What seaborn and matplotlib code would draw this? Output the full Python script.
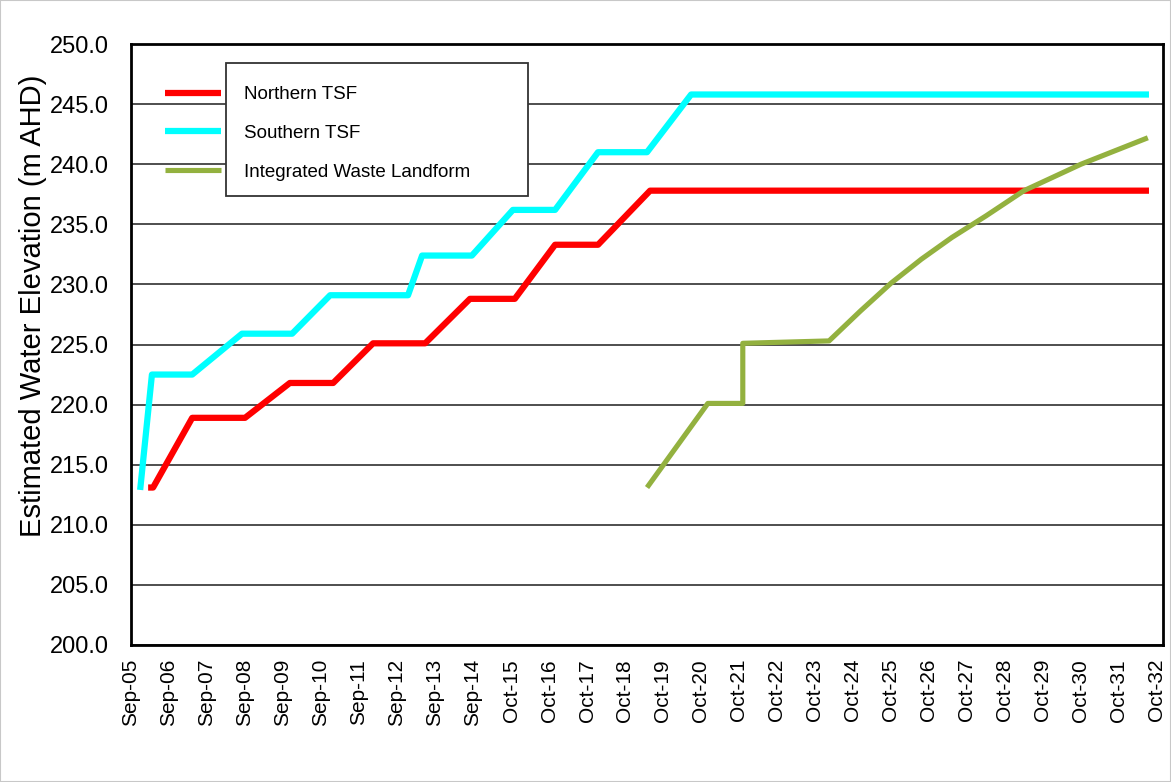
import numpy as np
import pandas as pd
import matplotlib
matplotlib.use("Agg")
import matplotlib.pyplot as plt
import seaborn as sns
from matplotlib.patches import Rectangle

# x values are years counted from the Sep-05 tick
north_x = [0.45, 0.58, 1.61, 3.0, 4.18, 5.32, 6.37, 7.74, 8.92, 10.1, 11.16, 12.29, 13.66, 26.79]
north_y = [213.1, 213.1, 218.9, 218.9, 221.8, 221.8, 225.1, 225.1, 228.8, 228.8, 233.3, 233.3, 237.8, 237.8]

south_x = [0.24, 0.55, 1.61, 2.92, 4.24, 5.24, 7.29, 7.66, 8.97, 10.05, 11.16, 12.29, 13.58, 14.74, 26.79]
south_y = [212.9, 222.5, 222.5, 225.9, 225.9, 229.1, 229.1, 232.4, 232.4, 236.2, 236.2, 241.0, 241.0, 245.8, 245.8]

iwl_x = [13.58, 15.18, 16.1, 16.1, 18.37, 19.2, 20.0, 20.8, 21.6, 22.5, 23.5, 25.0, 26.76]
iwl_y = [213.1, 220.1, 220.1, 225.1, 225.3, 227.8, 230.1, 232.1, 233.9, 235.7, 237.8, 240.0, 242.2]

series_names = ["Northern TSF", "Southern TSF", "Integrated Waste Landform"]
series_colors = ["#FF0000", "#00FFFF", "#93B13F"]

tick_labels = ["Sep-%02d" % yr for yr in range(5, 15)] + ["Oct-%02d" % yr for yr in range(15, 33)]

df = pd.concat([
    pd.DataFrame({"x": north_x, "y": north_y, "series": series_names[0]}),
    pd.DataFrame({"x": south_x, "y": south_y, "series": series_names[1]}),
    pd.DataFrame({"x": iwl_x, "y": iwl_y, "series": series_names[2]}),
], ignore_index=True)

sns.set_style("white")
plt.rcParams["font.family"] = ["Liberation Sans", "DejaVu Sans"]
for key in ["text.color", "axes.labelcolor", "xtick.color", "ytick.color"]:
    plt.rcParams[key] = "black"

fig = plt.figure(figsize=(11.71, 7.82), dpi=100)
ax = fig.add_axes([0.1119, 0.1752, 0.8813, 0.7685])

widths = [4.5, 4.5, 3.7]
for name, col, lw in zip(series_names, series_colors, widths):
    sub = df[df["series"] == name]
    sns.lineplot(data=sub, x="x", y="y", color=col, lw=lw, sort=False,
                 estimator=None, ax=ax, label=name, solid_capstyle="butt", zorder=3)

ax.set_xlim(0, 27.16)
ax.set_ylim(200, 250)
ax.set_yticks(np.arange(200, 251, 5))
ax.set_yticklabels(["%.1f" % v for v in np.arange(200, 251, 5)], fontsize=17)
ax.set_xticks(range(len(tick_labels)))
ax.set_xticklabels(tick_labels, rotation=90, fontsize=15)
ax.set_xlabel("")
ax.set_ylabel("Estimated Water Elevation (m AHD)", fontsize=21, labelpad=2)
ax.yaxis.label.set_y(0.565)

ax.yaxis.grid(True, color="#404040", lw=1.3)
ax.xaxis.grid(False)
ax.set_axisbelow(True)
for sp in ax.spines.values():
    sp.set_visible(True)
    sp.set_color("black")
    sp.set_linewidth(2)
ax.tick_params(axis="both", direction="out", length=6, width=1.3, color="black")
ax.tick_params(axis="y", pad=10)
ax.tick_params(axis="x", pad=4)

# legend box drawn like the original: handles stick out left of the frame
box = Rectangle((0.092, 0.747), 0.293, 0.221, transform=ax.transAxes,
                facecolor="white", edgecolor="#333333", lw=1.3, zorder=4)
ax.add_patch(box)
leg = ax.legend(loc="upper left", bbox_to_anchor=(0.033, 0.93), frameon=False,
                fontsize=13.5, handlelength=3.0, handletextpad=1.2, labelspacing=1.15,
                borderpad=0, borderaxespad=0)
leg.set_zorder(5)

fig.patches.append(Rectangle((0, 0), 1, 1, transform=fig.transFigure, fill=False,
                             edgecolor="#C8C8C8", lw=1.5))

plt.savefig("out.png", dpi=100)
